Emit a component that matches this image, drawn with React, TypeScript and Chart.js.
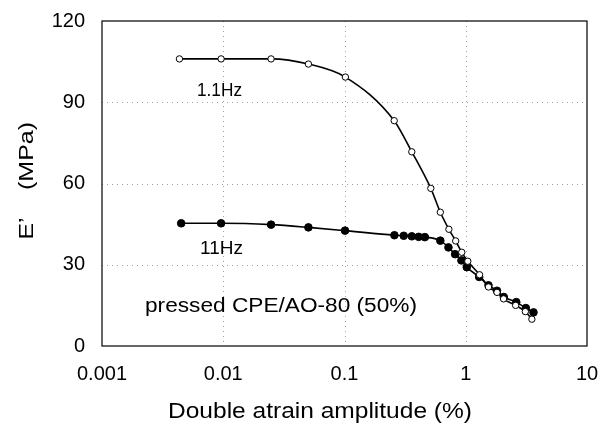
import React, { useEffect, useRef } from "react";
import { Chart, registerables } from "chart.js";

Chart.register(...registerables);

const FONT = '"Liberation Sans", Arial, Helvetica, sans-serif';

// 1.1 Hz (open circles)
const strain1Hz = [0.00435, 0.0096, 0.0248, 0.0504, 0.1017, 0.257, 0.359, 0.515, 0.617, 0.726, 0.826, 0.927, 1.04, 1.30, 1.54, 1.81, 2.05, 2.58, 3.1, 3.51];
const modulus1Hz = [106, 106, 106, 104.1, 99.3, 83.2, 71.7, 58.2, 49.4, 43.1, 38.8, 34.6, 31.3, 26.3, 21.8, 19.8, 17.4, 15.0, 12.7, 9.9];

// 11 Hz (filled circles)
const strain11Hz = [0.0045, 0.0096, 0.0248, 0.0504, 0.101, 0.258, 0.308, 0.359, 0.409, 0.46, 0.617, 0.72, 0.817, 0.921, 1.02, 1.29, 1.54, 1.81, 2.06, 2.61, 3.13, 3.62];
const modulus11Hz = [45.3, 45.3, 44.8, 43.8, 42.6, 40.9, 40.7, 40.5, 40.3, 40.2, 38.9, 36.4, 33.9, 31.6, 29.1, 25.5, 22.4, 20.4, 18.1, 16.2, 14.0, 12.4];

const xTickValues = [0.001, 0.01, 0.1, 1, 10];
const xTickLabels = ["0.001", "0.01", "0.1", "1", "10"];
const yTickValues = [0, 30, 60, 90, 120];

const seriesLabels = ["1.1Hz", "11Hz"];
const noteText = "pressed CPE/AO-80 (50%)";
const xTitle = "Double atrain amplitude (%)";
const yTitleParts = ["E\u2019", "(MPa)"];

function fitText(
  ctx: CanvasRenderingContext2D,
  text: string,
  x: number,
  y: number,
  size: number,
  targetW: number,
  align: CanvasTextAlign,
  rotate = 0
) {
  ctx.save();
  ctx.font = `${size}px ${FONT}`;
  const w = ctx.measureText(text).width;
  const sx = targetW / w;
  ctx.translate(x, y);
  if (rotate) ctx.rotate(rotate);
  ctx.scale(sx, 1);
  ctx.textAlign = align;
  ctx.textBaseline = "alphabetic";
  ctx.fillStyle = "#000";
  ctx.fillText(text, 0, 0);
  ctx.restore();
}

const decoPlugin = {
  id: "deco",
  beforeDatasetsDraw(chart: any) {
    const { ctx, chartArea, scales } = chart;
    ctx.save();
    ctx.strokeStyle = "#a0a0a0";
    ctx.lineWidth = 1;
    ctx.setLineDash([1, 4]);
    xTickValues.slice(1, -1).forEach((v) => {
      const px = Math.round(scales.x.getPixelForValue(v)) + 0.5;
      ctx.beginPath();
      ctx.moveTo(px, chartArea.top);
      ctx.lineTo(px, chartArea.bottom);
      ctx.stroke();
    });
    yTickValues.slice(1, -1).forEach((v) => {
      const py = Math.round(scales.y.getPixelForValue(v)) + 0.5;
      ctx.beginPath();
      ctx.moveTo(chartArea.left, py);
      ctx.lineTo(chartArea.right, py);
      ctx.stroke();
    });
    ctx.setLineDash([]);
    ctx.strokeStyle = "#000";
    ctx.lineWidth = 1.2;
    ctx.strokeRect(chartArea.left, chartArea.top, chartArea.right - chartArea.left, chartArea.bottom - chartArea.top);
    ctx.restore();
  },
  afterDraw(chart: any) {
    const ctx: CanvasRenderingContext2D = chart.ctx;
    fitText(ctx, seriesLabels[0], 197, 89 + 6.5, 18, 45, "left");
    fitText(ctx, seriesLabels[1], 200, 248 + 6.3, 18, 43, "left");
    fitText(ctx, noteText, 145, 304 + 7.5, 20, 272, "left");
    fitText(ctx, xTitle, 320, 410 + 8, 22, 304, "center");
    fitText(ctx, yTitleParts[1], 25 + 7.5, 156, 21, 68, "center", -Math.PI / 2);
    fitText(ctx, yTitleParts[0], 25 + 7.5, 228.5, 21, 22, "center", -Math.PI / 2);
  },
};

export default function App() {
  const canvasRef = useRef<HTMLCanvasElement | null>(null);

  useEffect(() => {
    document.body.style.margin = "0";
    const canvas = canvasRef.current;
    if (!canvas) return;
    const chart = new Chart(canvas, {
      type: "line",
      data: {
        datasets: [
          {
            label: seriesLabels[0],
            data: strain1Hz.map((x, i) => ({ x, y: modulus1Hz[i] })),
            borderColor: "#000",
            borderWidth: 1.6,
            pointRadius: 3.2,
            pointBorderWidth: 1,
            pointBackgroundColor: "#fff",
            pointBorderColor: "#000",
            cubicInterpolationMode: "monotone",
            fill: false,
          },
          {
            label: seriesLabels[1],
            data: strain11Hz.map((x, i) => ({ x, y: modulus11Hz[i] })),
            borderColor: "#000",
            borderWidth: 1.6,
            pointRadius: 3.8,
            pointBorderWidth: 1,
            pointBackgroundColor: "#000",
            pointBorderColor: "#000",
            cubicInterpolationMode: "monotone",
            fill: false,
          },
        ],
      },
      options: {
        responsive: false,
        animation: false,
        devicePixelRatio: 1,
        layout: { padding: { top: 21, right: 18, left: 0, bottom: 0 } },
        plugins: {
          legend: { display: false },
          tooltip: { enabled: false },
          title: { display: false },
        },
        scales: {
          x: {
            type: "logarithmic",
            min: 0.001,
            max: 10,
            afterBuildTicks: (scale: any) => {
              scale.ticks = xTickValues.map((v) => ({ value: v }));
            },
            afterFit: (scale: any) => {
              scale.height = 77;
              scale.paddingLeft = 0;
              scale.paddingRight = 0;
            },
            ticks: {
              autoSkip: false,
              maxRotation: 0,
              padding: 16,
              color: "#000",
              font: { family: FONT, size: 20 },
              callback: (v: any) => {
                const i = xTickValues.findIndex((t) => Math.abs(Math.log10(t) - Math.log10(Number(v))) < 1e-6);
                return i >= 0 ? xTickLabels[i] : "";
              },
            },
            grid: { display: false, drawTicks: false },
            border: { display: false },
          },
          y: {
            type: "linear",
            min: 0,
            max: 120,
            afterFit: (scale: any) => {
              scale.width = 102;
              scale.paddingTop = 0;
              scale.paddingBottom = 0;
            },
            ticks: {
              stepSize: 30,
              padding: 17,
              color: "#000",
              font: { family: FONT, size: 20 },
            },
            grid: { display: false, drawTicks: false },
            border: { display: false },
          },
        },
      },
      plugins: [decoPlugin],
    } as any);
    return () => chart.destroy();
  }, []);

  return (
    <div style={{ width: 605, height: 423, background: "#fff" }}>
      <canvas ref={canvasRef} width={605} height={423} />
    </div>
  );
}
